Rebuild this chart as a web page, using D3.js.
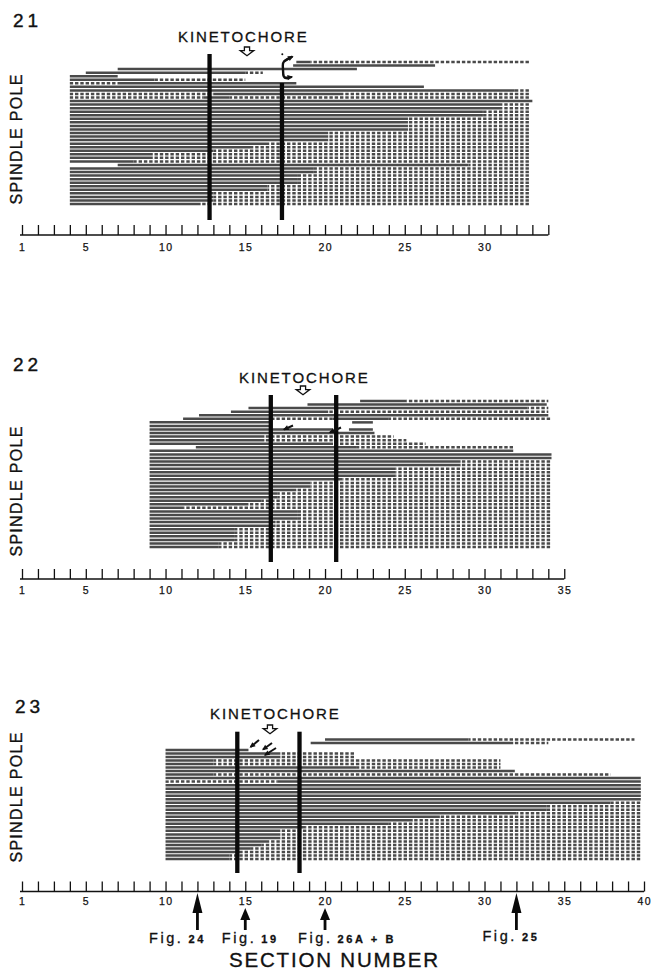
<!DOCTYPE html>
<html><head><meta charset="utf-8">
<script src="https://cdn.jsdelivr.net/npm/d3@7/dist/d3.min.js"></script>
<style>body{margin:0;background:#fff}svg{display:block}text{font-family:"Liberation Sans",Arial,Helvetica,sans-serif;fill:#111}</style>
</head><body><svg id="c" width="657" height="971"></svg>
<script>
// ---------- DATA ----------
const panelIds = ["21", "22", "23"];
const axisMax = [34, 35, 40];
const tickLabels = [1, 5, 10, 15, 20, 25, 30, 35, 40];
const bars21 = [12.76, 17.3];
const bars22 = [16.6, 20.7];
const bars23 = [14.5, 18.4];
// each track (row): list of [fromSection, toSection, "s" solid | "d" dashed]
const rows21 = [
  [[18.2,19.1,"s"],[19.1,32.8,"d"]],
  [[18,26.9,"s"]],
  [[7,22,"s"]],
  [[5,15,"s"],[15,16.1,"d"]],
  [[4,7,"s"]],
  [[4,9.3,"s"],[9.3,15,"d"]],
  [[4,7,"d"],[7,18.2,"s"]],
  [[4,26.2,"s"]],
  [[4,31.9,"s"],[31.9,32.8,"d"]],
  [[4,13,"d"],[13,21,"s"],[21,32.8,"d"]],
  [[4,12.4,"d"],[12.4,14,"s"],[14,32.8,"d"]],
  [[4,33,"s"]],
  [[4,31.1,"s"],[31.1,32.8,"d"]],
  [[4,31.1,"s"],[31.1,32.8,"d"]],
  [[4,29.9,"s"],[29.9,32.8,"d"]],
  [[4,29.9,"s"],[29.9,32.8,"d"]],
  [[4,25.2,"s"],[25.2,32.8,"d"]],
  [[4,25.2,"s"],[25.2,32.8,"d"]],
  [[4,25.2,"s"],[25.2,32.8,"d"]],
  [[4,25.2,"s"],[25.2,32.8,"d"]],
  [[4,20.2,"s"],[20.2,32.8,"d"]],
  [[4,20.2,"s"],[20.2,32.8,"d"]],
  [[4,20.2,"s"],[20.2,32.8,"d"]],
  [[4,16.5,"s"],[16.5,32.8,"d"]],
  [[4,15.5,"s"],[15.5,32.8,"d"]],
  [[4,13,"s"],[13,32.8,"d"]],
  [[4,9.2,"s"],[9.2,32.8,"d"]],
  [[4,9.2,"s"],[9.2,32.8,"d"]],
  [[4,8,"s"],[8,32.8,"d"]],
  [[7,29,"s"],[29,32.8,"d"]],
  [[4,19.3,"s"],[19.3,32.8,"d"]],
  [[4,19.3,"s"],[19.3,32.8,"d"]],
  [[4,18.3,"s"],[18.3,32.8,"d"]],
  [[4,18.3,"s"],[18.3,32.8,"d"]],
  [[4,18.3,"s"],[18.3,32.8,"d"]],
  [[4,16.4,"s"],[16.4,32.8,"d"]],
  [[4,16.4,"s"],[16.4,32.8,"d"]],
  [[4,13,"s"],[13,32.8,"d"]],
  [[4,13,"s"],[13,32.8,"d"]],
  [[4,13,"s"],[13,32.8,"d"]],
  [[4,12.2,"s"],[12.2,32.8,"d"]]
];
const rows22 = [
  [[22.2,25.1,"s"],[25.1,34,"d"]],
  [[18.9,33.9,"s"]],
  [[15.2,32.7,"s"],[32.7,34,"d"]],
  [[14.1,20.2,"s"],[20.2,34,"d"]],
  [[12.1,34,"s"]],
  [[11.1,16.5,"s"],[16.5,20.5,"d"],[20.5,24,"s"],[24,34.2,"d"]],
  [[9,16.5,"s"],[21.7,23,"s"]],
  [[9,16.5,"s"]],
  [[9,20.5,"s"],[21.5,23,"s"]],
  [[9,23.1,"s"]],
  [[9,16.2,"s"],[16.2,24.3,"d"]],
  [[9,16.2,"s"],[16.2,25.1,"d"]],
  [[9,20.5,"s"],[20.5,26.3,"d"]],
  [[11.9,22,"s"],[22,31.8,"d"]],
  [[9,31.8,"s"]],
  [[9,34.2,"s"]],
  [[9,34.2,"s"]],
  [[9,28.5,"s"],[28.5,34.2,"d"]],
  [[9,28.5,"s"],[28.5,34.2,"d"]],
  [[9,24.4,"s"],[24.4,34.2,"d"]],
  [[9,24.4,"s"],[24.4,34.2,"d"]],
  [[9,24.4,"s"],[24.4,34.2,"d"]],
  [[9,21.1,"s"],[21.1,34.2,"d"]],
  [[9,19.1,"s"],[19.1,34.2,"d"]],
  [[9,19.1,"s"],[19.1,34.2,"d"]],
  [[9,18.2,"s"],[18.2,34.2,"d"]],
  [[9,17,"s"],[17,34.2,"d"]],
  [[9,17,"s"],[17,34.2,"d"]],
  [[9,16,"s"],[16,34.2,"d"]],
  [[9,15.2,"s"],[15.2,34.2,"d"]],
  [[9,11.1,"s"],[11.1,34.2,"d"]],
  [[9,18.3,"s"],[18.3,34.2,"d"]],
  [[9,18.3,"s"],[18.3,34.2,"d"]],
  [[9,18.3,"s"],[18.3,34.2,"d"]],
  [[9,16.9,"s"],[16.9,34.2,"d"]],
  [[9,16.9,"s"],[16.9,34.2,"d"]],
  [[9,14.3,"s"],[14.3,34.2,"d"]],
  [[9,14.3,"s"],[14.3,34.2,"d"]],
  [[9,14.3,"s"],[14.3,34.2,"d"]],
  [[9,14.3,"s"],[14.3,34.2,"d"]],
  [[9,13.3,"s"],[13.3,34.2,"d"]],
  [[9,13.3,"s"],[13.3,34.2,"d"]]
];
const rows23 = [
  [[20,29,"s"],[29,39.4,"d"]],
  [[19.1,31.8,"s"],[31.8,34,"d"]],
  [],
  [[10,15.2,"s"]],
  [[10,17.2,"s"],[17.2,21.9,"d"]],
  [[10,17.2,"s"],[17.2,21.9,"d"]],
  [[10,13,"s"],[13,31,"d"]],
  [[10,13,"s"],[13,31,"d"]],
  [[10,22,"s"],[22,31,"d"]],
  [[10,31.9,"s"]],
  [[10,13,"s"],[13,37.9,"d"]],
  [[10,39.8,"s"]],
  [[10,10.2,"s"],[10.2,17,"d"],[17,39.8,"s"]],
  [[10,39.8,"s"]],
  [[10,39.8,"s"]],
  [[10,39.8,"s"]],
  [[10,39.8,"s"]],
  [[10,39.8,"s"]],
  [[10,37.9,"s"],[37.9,39.8,"d"]],
  [[10,33.9,"s"],[33.9,39.8,"d"]],
  [[10,33.9,"s"],[33.9,39.8,"d"]],
  [[10,32,"s"],[32,39.8,"d"]],
  [[10,27.2,"s"],[27.2,39.8,"d"]],
  [[10,25.5,"s"],[25.5,39.8,"d"]],
  [[10,24,"s"],[24,39.8,"d"]],
  [[10,18.8,"s"],[18.8,39.8,"d"]],
  [[10,17.2,"s"],[17.2,39.8,"d"]],
  [[10,17.2,"s"],[17.2,39.8,"d"]],
  [[10,17.2,"s"],[17.2,39.8,"d"]],
  [[10,16.5,"s"],[16.5,39.8,"d"]],
  [[10,16,"s"],[16,39.8,"d"]],
  [[10,15.3,"s"],[15.3,39.8,"d"]],
  [[10,14.8,"s"],[14.8,39.8,"d"]],
  [[10,14,"s"],[14,39.8,"d"]],
  [[10,14,"s"],[14,39.8,"d"]]
];
const figSections = [12, 15, 20, 32];
const figNames = ["24", "19", "26A + B", "25"];

// ---------- LAYOUT ----------
const svg = d3.select("#c");
svg.append("rect").attr("width",657).attr("height",971).attr("fill","#fff");
const x = d3.scaleLinear().domain([1, 40]).range([22, 644]);
const layout = [
  {rowTop:62, rowBottom:204, axisY:235, labelY:251, barTop:[54,83], barBottom:220, numY:27, numX:13, spY:139,
   kinX:178, kinY:42, arrX:247, arrY:47, rows:rows21, bars:bars21},
  {rowTop:401, rowBottom:547, axisY:579, labelY:594, barTop:[395,395], barBottom:562, numY:371, numX:13, spY:491,
   kinX:239, kinY:383, arrX:303, arrY:386, rows:rows22, bars:bars22},
  {rowTop:739.4, rowBottom:859, axisY:891.5, labelY:905, barTop:[731.7,731.7], barBottom:873, numY:713, numX:15, spY:797,
   kinX:210, kinY:719, arrX:270, arrY:725, rows:rows23, bars:bars23}
];
const DASH_P = 5.3;

function hollowArrow(g, cx, top){
  g.append("path")
    .attr("d", `M${cx-2.6},${top} h5.2 v3.6 h4.2 l-6.8,5.2 l-6.8,-5.2 h4.2 z`)
    .attr("fill","#fff").attr("stroke","#111").attr("stroke-width",1.3);
}
function smallArrow(g, x1, y1, x2, y2){
  g.append("line").attr("x1",x1).attr("y1",y1).attr("x2",x2).attr("y2",y2)
    .attr("stroke","#111").attr("stroke-width",2);
  const a = Math.atan2(y2-y1, x2-x1), L = 4.5, W = 2.6;
  const bx = x2 - L*Math.cos(a), by = y2 - L*Math.sin(a);
  g.append("path").attr("d",`M${x2+1.2*Math.cos(a)},${y2+1.2*Math.sin(a)} L${bx - W*Math.sin(a)},${by + W*Math.cos(a)} L${bx + W*Math.sin(a)},${by - W*Math.cos(a)} Z`)
    .attr("fill","#111");
}

layout.forEach((p, pi) => {
  const g = svg.append("g");
  const y = d3.scaleLinear().domain([0, p.rows.length-1]).range([p.rowTop, p.rowBottom]);
  const segs = p.rows.flatMap((r, i) => r.map(s => ({i, a:s[0], b:s[1], t:s[2]})));
  g.selectAll("line.trk").data(segs).join("line").attr("class","trk")
    .attr("x1", d => x(d.a)).attr("x2", d => x(d.b))
    .attr("y1", d => y(d.i)).attr("y2", d => y(d.i))
    .attr("stroke", "#4a4a4a").attr("stroke-width", 2.5)
    .attr("stroke-dasharray", d => d.t === "d" ? "3.4,1.9" : null)
    .attr("stroke-dashoffset", d => d.t === "d" ? ((x(d.a) - x(1)) % DASH_P) : null);

  // kinetochore bars
  g.selectAll("rect.bar").data(p.bars).join("rect").attr("class","bar")
    .attr("x", d => x(d) - 2.15).attr("width", 4.3)
    .attr("y", (d,i) => p.barTop[i]).attr("height", (d,i) => p.barBottom - p.barTop[i])
    .attr("fill", "#0a0a0a");

  // axis
  const ax = d3.axisTop(x.copy().domain([1, axisMax[pi]]).range([x(1), x(axisMax[pi])]))
    .tickValues(d3.range(1, axisMax[pi] + 1)).tickSize(10).tickSizeOuter(0).tickFormat("");
  const ag = g.append("g").attr("transform", `translate(0,${p.axisY})`).call(ax);
  ag.select(".domain").attr("stroke","#111").attr("stroke-width",1.4).attr("d", `M${x(1)-2},0H${x(axisMax[pi])}`);
  ag.selectAll(".tick line").attr("stroke","#111").attr("stroke-width",1.3);
  g.selectAll("text.tl").data(tickLabels.filter(t => t <= axisMax[pi])).join("text").attr("class","tl")
    .attr("x", d => x(d) + 0.7).attr("y", p.labelY).attr("text-anchor","middle")
    .attr("font-size", 10.5).attr("letter-spacing", 1.4).attr("stroke","#111").attr("stroke-width",0.25).text(d => d);

  // panel number
  g.append("text").attr("x", p.numX).attr("y", p.numY).attr("font-size", 19).attr("letter-spacing", 4)
    .attr("stroke","#111").attr("stroke-width",0.4).text(panelIds[pi]);
  // spindle pole
  g.append("text").attr("transform", `translate(21.5,${p.spY}) rotate(-90)`).attr("text-anchor","middle")
    .attr("font-size", 16).attr("letter-spacing", 1.3).attr("stroke","#111").attr("stroke-width",0.35).text("SPINDLE POLE");
  // kinetochore label
  g.append("text").attr("x", p.kinX).attr("y", p.kinY).attr("font-size", 15).attr("letter-spacing", 1.9)
    .attr("stroke","#111").attr("stroke-width",0.3).text("KINETOCHORE");
  hollowArrow(g, p.arrX, p.arrY);
});

// small annotation arrows
const ga = svg.append("g");
// panel 21 bracket near second bar
ga.append("path").attr("d","M290,57.5 L284,61.5 Q282.6,63 282.8,66 L283.3,75 Q283.8,78.2 288,78.3")
  .attr("fill","none").attr("stroke","#111").attr("stroke-width",2.4);
smallArrow(ga, 285, 60.5, 292.5, 56.5);
smallArrow(ga, 284.5, 78, 292, 77);
ga.append("circle").attr("cx",282.3).attr("cy",54.2).attr("r",1).attr("fill","#111");
// panel 22
smallArrow(ga, 293, 425.5, 284, 429.5);
smallArrow(ga, 341, 427.5, 330, 432.5);
// panel 23
smallArrow(ga, 259, 740, 250.5, 747);
smallArrow(ga, 272, 743, 263, 749.5);
smallArrow(ga, 276, 748, 265, 755);

// figure reference arrows (panel 23)
const tipY = [893, 908, 908, 893];
const headL = [20, 12, 12, 20];
const txtOff = [48.5, 23.5, 27, 34];
const txtY = [943, 943, 943, 941];
figSections.forEach((s, i) => {
  const cx = x(s);
  ga.append("rect").attr("x", cx - 1.4).attr("width", 2.8).attr("y", tipY[i] + headL[i] - 1).attr("height", 930 - tipY[i] - headL[i] + 1).attr("fill","#0a0a0a");
  ga.append("path").attr("d", `M${cx},${tipY[i]} L${cx+5},${tipY[i]+headL[i]} L${cx-5},${tipY[i]+headL[i]} Z`).attr("fill","#0a0a0a");
  const t = ga.append("text").attr("x", cx - txtOff[i]).attr("y", txtY[i]).attr("letter-spacing", 2.6)
    .attr("stroke","#111").attr("stroke-width",0.3);
  t.append("tspan").attr("font-size", 14.5).text("Fig.");
  t.append("tspan").attr("font-size", 11).attr("font-weight", "bold").attr("dx", 5).text(figNames[i]);
});
svg.append("text").attr("x", 334.5).attr("y", 967).attr("text-anchor","middle").attr("font-size", 20.5)
  .attr("letter-spacing", 1.8).attr("stroke","#111").attr("stroke-width",0.35).text("SECTION NUMBER");
</script></body></html>
